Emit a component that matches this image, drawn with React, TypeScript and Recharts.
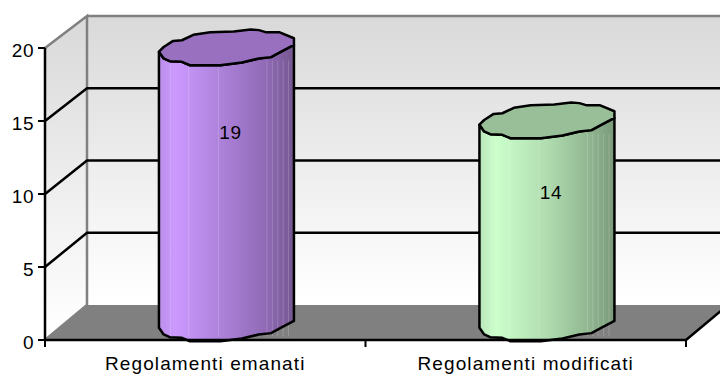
import { BarChart, Bar, XAxis, YAxis, ReferenceArea, LabelList } from "recharts";

const categories = ["Regolamenti emanati", "Regolamenti modificati"];
const values = [19, 14];
const yTicks = [0, 5, 10, 15, 20];
const gridValues = [5, 10, 15];

// body gradient per bar: [left edge, highlight, middle, shaded, right edge], then the top cap colour
const bodyColors = [
  ["#b98fe8", "#cc99ff", "#a97fd6", "#8f69b5", "#75578f"],
  ["#b9e6b9", "#ccffcc", "#b0dcb0", "#92b892", "#7a997a"],
];
const capColors = ["#9970bf", "#99bf99"];

const WIDTH = 720;
const HEIGHT = 376;
const PLOT_TOP = 48;
const PLOT_BOTTOM = 340;
const DEPTH_X = 42;
const FONT = "'Liberation Sans', Arial, sans-serif";

// the 3d box shrinks a little toward the back wall
const backY = (y: number) => y - 35 + ((PLOT_BOTTOM - y) * 3) / (PLOT_BOTTOM - PLOT_TOP);

// rough outline of the cylinder rim, as fractions of half the bar width, going clockwise from the left
const rim = [
  [-1, 0.07], [-0.93, 0], [-0.79, -0.09], [-0.66, -0.1], [-0.49, -0.18], [-0.24, -0.22],
  [0.11, -0.23], [0.36, -0.26], [0.48, -0.25], [0.58, -0.22], [0.78, -0.22], [1, -0.13],
  [1, -0.03], [0.81, 0.07], [0.66, 0.15], [0.48, 0.17], [0.23, 0.23], [-0.09, 0.27],
  [-0.54, 0.27], [-0.66, 0.22], [-0.84, 0.21], [-0.93, 0.17],
];
const facets = [0.087, 0.22, 0.44, 0.8, 0.84, 0.88, 0.92, 0.96];

function Walls(props: any) {
  const { x, y, width, height } = props;
  const bottom = y + height;
  const backLeft = x + DEPTH_X;
  const backRight = x + width + DEPTH_X;
  const top = backY(y);
  const floor = backY(bottom);
  return (
    <g>
      <defs>
        <linearGradient id="wall" x1="0" y1="0" x2="0" y2="1">
          <stop offset="0" stopColor="#d9d9d9" />
          <stop offset="0.97" stopColor="#ffffff" />
        </linearGradient>
      </defs>
      <rect x={backLeft} y={top} width={width} height={floor - top} fill="url(#wall)" />
      <polygon points={`${x},${y} ${backLeft},${top} ${backLeft},${floor} ${x},${bottom}`} fill="url(#wall)" />
      <polygon points={`${x},${bottom} ${backLeft},${floor} ${backRight},${floor} ${x + width},${bottom}`} fill="#808080" />
      <polyline
        points={`${x},${y} ${backLeft},${top} ${backLeft},${floor} ${x},${bottom}`}
        fill="none"
        stroke="#808080"
        strokeWidth={2.5}
      />
      <line x1={backLeft} y1={top} x2={backRight} y2={top} stroke="#808080" strokeWidth={2.5} />
      <line x1={x + width} y1={bottom} x2={backRight} y2={floor} stroke="#000" strokeWidth={2.5} />
    </g>
  );
}

function GridLine(props: any) {
  const { x, y, width } = props;
  const by = backY(y);
  return (
    <polyline
      points={`${x},${y} ${x + DEPTH_X},${by} ${x + width + DEPTH_X},${by}`}
      fill="none"
      stroke="#000"
      strokeWidth={2.5}
    />
  );
}

function Cylinder(props: any) {
  const { x, y, width, height, index } = props;
  const half = width / 2;
  const cx = x + half + DEPTH_X / 2;
  const topY = y - 15.6;
  const baseY = y + height - 17;
  const pt = (c: number[], cy: number) => `${cx + c[0] * half},${cy + c[1] * half}`;
  const front = rim.slice(12).concat([rim[0]]); // right side round the front to the left
  const capPoints = rim.map((c) => pt(c, topY)).join(" ");
  const bodyPoints = [
    ...front.map((c) => pt(c, topY)),
    ...front.slice().reverse().map((c) => pt(c, baseY)),
  ].join(" ");
  const stops = [0, 0.12, 0.5, 0.8, 1];
  const gradId = `body-${index}`;
  return (
    <g>
      <defs>
        <linearGradient id={gradId} x1="0" y1="0" x2="1" y2="0">
          {stops.map((s, i) => (
            <stop key={s} offset={s} stopColor={bodyColors[index][i]} />
          ))}
        </linearGradient>
      </defs>
      <polygon points={bodyPoints} fill={`url(#${gradId})`} />
      {facets.map((f) => (
        <line
          key={f}
          x1={cx - half + f * width}
          x2={cx - half + f * width}
          y1={topY + half * 0.2}
          y2={baseY + half * 0.2}
          stroke="#fff"
          strokeOpacity={0.18}
        />
      ))}
      <polygon points={bodyPoints} fill="none" stroke="#000" strokeWidth={2.5} strokeLinejoin="round" />
      <polygon points={capPoints} fill={capColors[index]} stroke="#000" strokeWidth={2.5} strokeLinejoin="round" />
    </g>
  );
}

function ValueLabel(props: any) {
  const { x, y, width, height, value } = props;
  return (
    <text
      x={x + width / 2 + 25}
      y={y + height * 0.19 + 17.6}
      textAnchor="middle"
      dominantBaseline="central"
      fontFamily={FONT}
      fontSize={19}
      letterSpacing={0.5}
      fill="#000"
    >
      {value}
    </text>
  );
}

function CategoryTick(props: any) {
  const { x, y, payload, index } = props;
  const band = (WIDTH - 45 - 34) / categories.length;
  const left = x - band / 2;
  return (
    <g>
      <line x1={left} x2={left} y1={PLOT_BOTTOM} y2={PLOT_BOTTOM + 7} stroke="#000" strokeWidth={2} />
      {index === categories.length - 1 && (
        <line x1={x + band / 2} x2={x + band / 2} y1={PLOT_BOTTOM} y2={PLOT_BOTTOM + 7} stroke="#000" strokeWidth={2} />
      )}
      <text
        x={x}
        y={y + 22}
        textAnchor="middle"
        fontFamily={FONT}
        fontSize={19}
        letterSpacing={1.1}
        fill="#000"
      >
        {payload.value}
      </text>
    </g>
  );
}

const data = categories.map((name, i) => ({ name, value: values[i] }));

export default function App() {
  return (
    <div style={{ position: "absolute", left: 0, top: 0, width: WIDTH, height: HEIGHT, background: "#fff" }}>
      <BarChart
        width={WIDTH}
        height={HEIGHT}
        data={data}
        margin={{ top: PLOT_TOP, right: 34, bottom: 0, left: 0 }}
        barCategoryGap="29%"
      >
        <ReferenceArea y1={0} y2={20} shape={<Walls />} />
        {gridValues.map((v) => (
          <ReferenceArea key={v} y1={v} y2={v} shape={<GridLine />} />
        ))}
        <XAxis
          dataKey="name"
          height={HEIGHT - PLOT_BOTTOM}
          axisLine={{ stroke: "#000", strokeWidth: 2.5 }}
          tickLine={false}
          tick={<CategoryTick />}
          interval={0}
        />
        <YAxis
          width={45}
          domain={[0, 20]}
          ticks={yTicks}
          axisLine={{ stroke: "#000", strokeWidth: 2.5 }}
          tickLine={{ stroke: "#000", strokeWidth: 2 }}
          tickSize={7}
          tickMargin={4}
          tick={{ fill: "#000", fontFamily: FONT, fontSize: 19, letterSpacing: 0.5, dy: 2 }}
        />
        <Bar dataKey="value" shape={<Cylinder />} isAnimationActive={false}>
          <LabelList dataKey="value" content={<ValueLabel />} />
        </Bar>
      </BarChart>
    </div>
  );
}
